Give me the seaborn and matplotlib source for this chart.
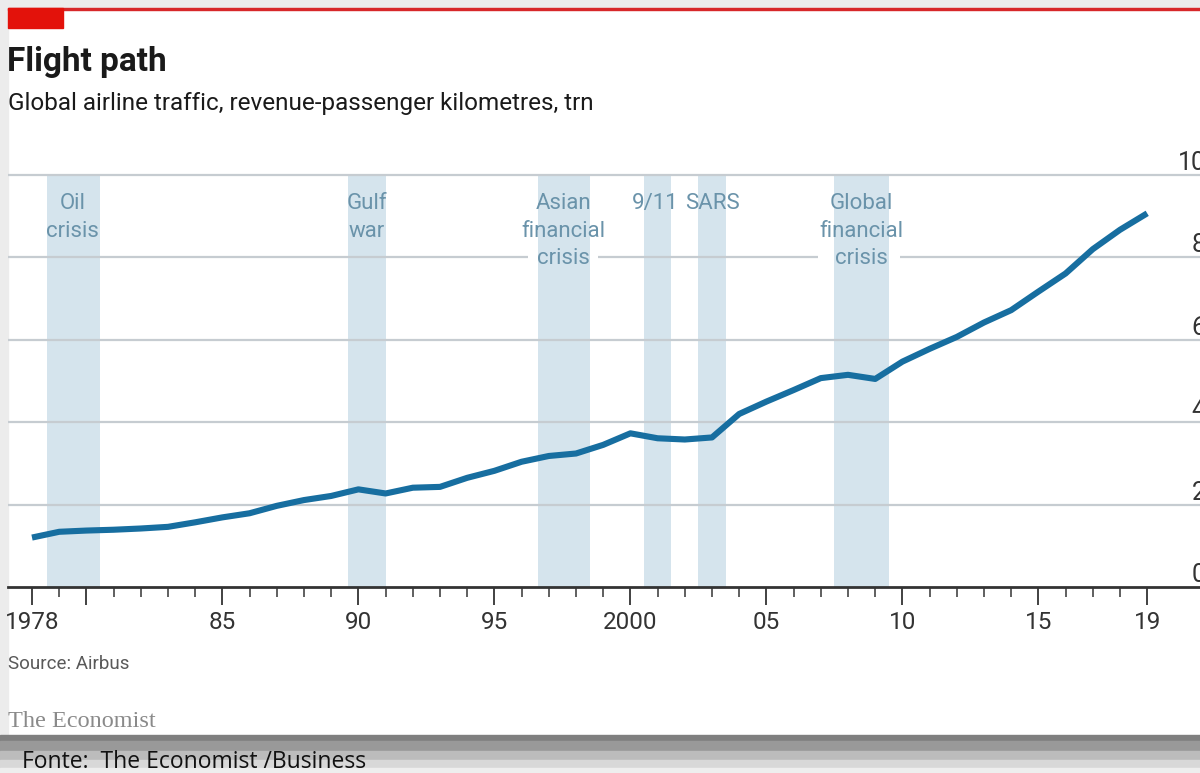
import matplotlib
matplotlib.use("Agg")
import matplotlib.pyplot as plt
from matplotlib.patches import Rectangle
import seaborn as sns
import pandas as pd

# ---------------- data ----------------
years = list(range(1978, 2020))
traffic = [1.20, 1.34, 1.37, 1.39, 1.42, 1.46, 1.57, 1.69, 1.79, 1.97,
           2.11, 2.21, 2.37, 2.27, 2.41, 2.43, 2.65, 2.82, 3.04, 3.18,
           3.24, 3.45, 3.73, 3.61, 3.58, 3.63, 4.20, 4.50, 4.78, 5.07,
           5.15, 5.05, 5.47, 5.78, 6.07, 6.42, 6.72, 7.17, 7.61, 8.20,
           8.67, 9.07]

band_starts = [1978.55, 1989.6, 1996.6, 2000.5, 2002.5, 2007.5]
band_ends = [1980.5, 1991.0, 1998.5, 2001.5, 2003.5, 2009.5]
event_labels = ["Oil\ncrisis", "Gulf\nwar", "Asian\nfinancial\ncrisis", "9/11", "SARS",
                "Global\nfinancial\ncrisis"]
label_x = [1979.5, 1990.3, 1997.55, 2000.92, 2003.0, 2008.5]

xtick_pos = [1978, 1980, 1985, 1990, 1995, 2000, 2005, 2010, 2015, 2019]
xtick_labels = ["1978", "", "85", "90", "95", "2000", "05", "10", "15", "19"]
ytick_pos = [0, 2, 4, 6, 8, 10]
ytick_labels = ["0", "2", "4", "6", "8", "10"]

title = "Flight path"
subtitle = "Global airline traffic, revenue-passenger kilometres, trn"
source = "Source: Airbus"
brand = "The Economist"
footer = "Fonte:  The Economist /Business"

# ---------------- style ----------------
sns.set_style("white")
plt.rcParams["font.family"] = ["Roboto", "DejaVu Sans"]

W, H = 1200, 773
fig = plt.figure(figsize=(W / 100, H / 100), dpi=100)
fig.patch.set_facecolor("white")

def fx(px):
    return px / W

def fy(py):
    return 1 - py / H

# frame decorations of the screenshot
fig.add_artist(Rectangle((0, 0), fx(8), 1, transform=fig.transFigure, color="#ececec", zorder=0))
fig.add_artist(Rectangle((0, fy(8)), 1, 8 / H, transform=fig.transFigure, color="#ececec", zorder=0))
fig.add_artist(Rectangle((fx(8), fy(9.5)), 1, 1.6 / H, transform=fig.transFigure, color="#d7282a", zorder=1))
fig.add_artist(Rectangle((fx(8), fy(28)), fx(55), 20 / H, transform=fig.transFigure, color="#e3120b", zorder=1))

# bottom grey band
stripes = [(735, 741, "#7f7f7f"), (741, 751, "#999999"), (751, 760, "#bcbcbc"),
           (760, 768, "#d8d8d8"), (768, 773, "#eeeeee")]
for top, bot, col in stripes:
    fig.add_artist(Rectangle((0, fy(bot)), 1, (bot - top) / H, transform=fig.transFigure,
                             color=col, zorder=1))

# axes
x_left_px, x_right_px = 8, 1206
y_top_px, y_bot_px = 175, 587
ax = fig.add_axes([fx(x_left_px), fy(y_bot_px), fx(x_right_px - x_left_px),
                   (y_bot_px - y_top_px) / H])
ax.set_facecolor("none")
px_per_year = 27.2
x0_year = 1978 - (32 - x_left_px) / px_per_year
x1_year = 1978 + (x_right_px - 32) / px_per_year
ax.set_xlim(x0_year, x1_year)
ax.set_ylim(0, 10)

for s, e in zip(band_starts, band_ends):
    ax.axvspan(s, e, color="#d5e4ed", zorder=0.5, lw=0)

grid_col = "#c6ccd1"
gaps = {8: [(1996.25, 1998.8), (2006.9, 2009.9)]}
for yv in ytick_pos[1:]:
    segs = [x0_year]
    for a, b in gaps.get(yv, []):
        segs += [a, b]
    segs.append(x1_year)
    for i in range(0, len(segs), 2):
        ax.hlines(yv, segs[i], segs[i + 1], color=grid_col, lw=1.6, zorder=1, clip_on=False)

df = pd.DataFrame({"year": years, "traffic": traffic})
sns.lineplot(data=df, x="year", y="traffic", ax=ax, color="#176ea0", lw=4.4, zorder=3)
ax.lines[-1].set_solid_capstyle("butt")

for sp in ["top", "left", "right"]:
    ax.spines[sp].set_visible(False)
ax.spines["bottom"].set_color("#333333")
ax.spines["bottom"].set_linewidth(2)
ax.spines["bottom"].set_zorder(4)

ax.set_xticks(xtick_pos)
ax.set_xticklabels(xtick_labels)
ax.set_xticks(years, minor=True)
ax.tick_params(axis="x", which="major", direction="out", length=13, width=1.3,
               color="#333333", labelsize=17.5, labelcolor="#333333", pad=4, bottom=True)
ax.tick_params(axis="x", which="minor", direction="out", length=7, width=1.2,
               color="#444444", bottom=True)

ax.yaxis.tick_right()
ax.set_yticks(ytick_pos)
ax.set_yticklabels(ytick_labels)
ax.tick_params(axis="y", length=0, pad=0, labelsize=18, labelcolor="#333333")
for lab in ax.get_yticklabels():
    lab.set_ha("right")
    lab.set_va("bottom")
ax.set_xlabel("")
ax.set_ylabel("")

lab_col = "#6a93aa"
top_y = (587 - 193) / 41.2
for txt, xv in zip(event_labels, label_x):
    ax.text(xv, top_y, txt, ha="center", va="top", fontsize=16, color=lab_col,
            linespacing=1.42, zorder=5)

# texts
fig.text(fx(7), fy(71), title, fontsize=24, fontweight="bold", color="#1a1a1a", va="baseline")
fig.text(fx(8), fy(110), subtitle, fontsize=17.5, color="#1a1a1a", va="baseline")
fig.text(fx(8), fy(669), source, fontsize=13.5, color="#595959", va="baseline")
fig.text(fx(8), fy(727), brand, fontsize=17.5, color="#8a8a8a", va="baseline",
         family=["Liberation Serif", "DejaVu Serif"])
fig.text(fx(22), fy(768), footer, fontsize=16.5, color="#111111", va="baseline",
         family=["Open Sans", "DejaVu Sans"])

fig.savefig("out.png", dpi=100)
